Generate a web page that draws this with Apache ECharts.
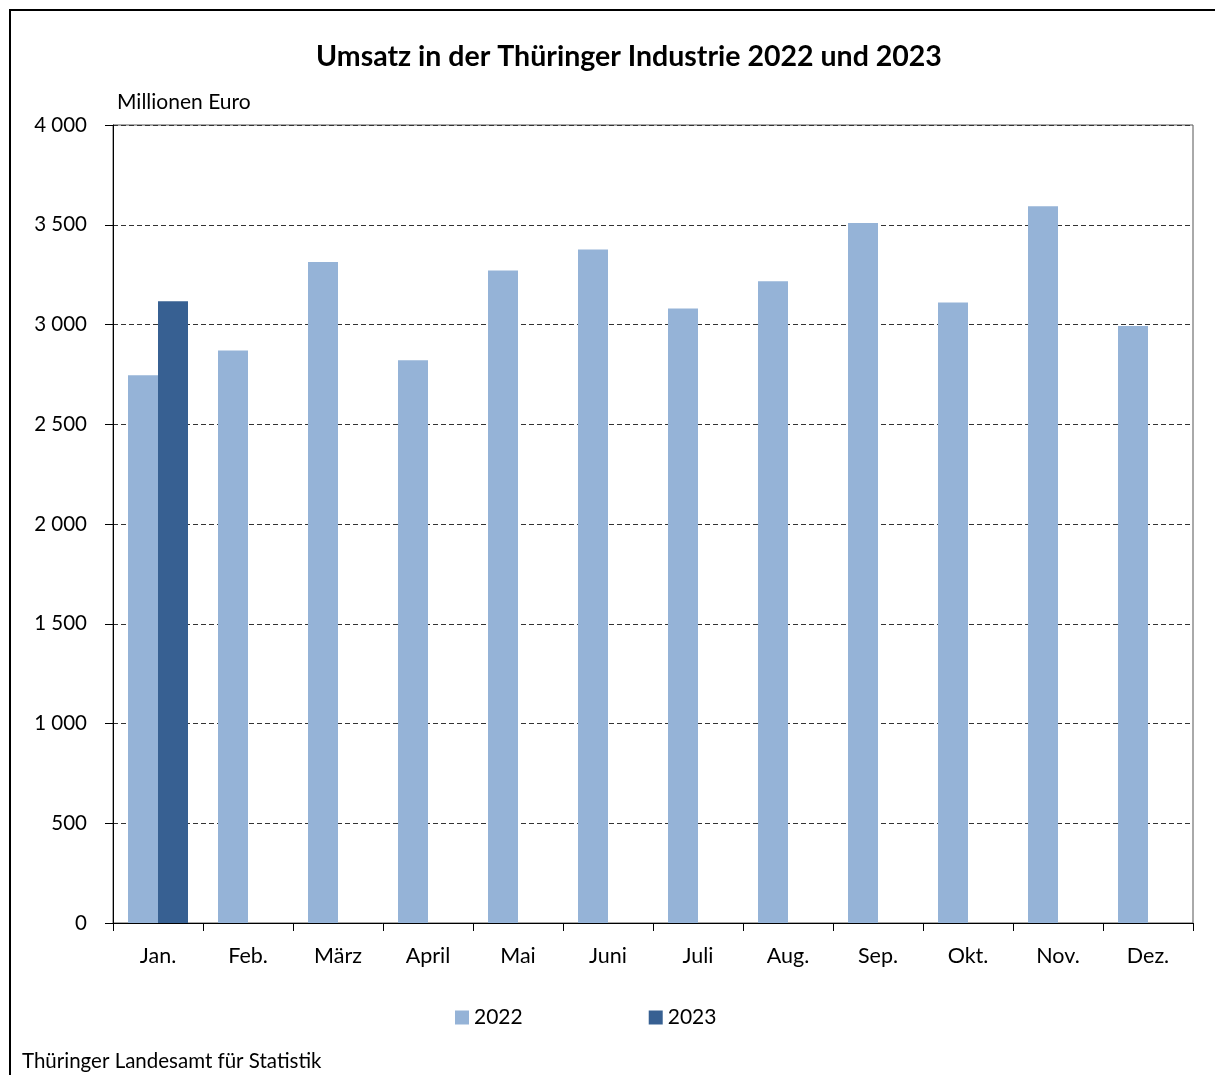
<!DOCTYPE html>
<html>
<head>
<meta charset="utf-8">
<script src="https://cdn.jsdelivr.net/npm/echarts@6/dist/echarts.min.js"></script>
<style>
html,body{margin:0;padding:0;background:#fff;}
#chart{width:1215px;height:1075px;}
</style>
</head>
<body>
<div id="chart"></div>
<script>
const months = ['Jan.', 'Feb.', 'März', 'April', 'Mai', 'Juni', 'Juli', 'Aug.', 'Sep.', 'Okt.', 'Nov.', 'Dez.'];
const sales2022 = [2746, 2870, 3313, 2821, 3271, 3376, 3080, 3217, 3509, 3110, 3593, 2993];
const sales2023 = [3117, null, null, null, null, null, null, null, null, null, null, null];
const seriesNames = ['2022', '2023'];

const FONT = 'Lato';
const chart = echarts.init(document.getElementById('chart'));
const fmt = v => {
  const s = String(v);
  return s.length > 3 ? s.slice(0, -3) + ' ' + s.slice(-3) : s;
};
chart.setOption({
  backgroundColor: '#fff',
  animation: false,
  textStyle: { fontFamily: FONT },
  title: {
    text: 'Umsatz in der Thüringer Industrie 2022 und 2023',
    left: 624, top: 37, textAlign: 'center',
    textStyle: { fontFamily: FONT, fontSize: 28.5, fontWeight: 'bold', color: '#000' }
  },
  graphic: [
    { type: 'rect', shape: { x: 10, y: 10, width: 1300, height: 1200 }, style: { fill: null, stroke: '#000', lineWidth: 2 }, silent: true },
    { type: 'text', left: 117, top: 92, style: { text: 'Millionen Euro', fontFamily: FONT, fontSize: 21, fill: '#000' } },
    { type: 'text', left: 22, top: 1051, style: { text: 'Thüringer Landesamt für Statistik', fontFamily: FONT, fontSize: 20.5, fill: '#000' } }
  ],
  legend: {
    data: seriesNames,
    left: 450, top: 1002,
    itemWidth: 14, itemHeight: 14, itemGap: 126,
    icon: 'rect',
    textStyle: { fontFamily: FONT, fontSize: 21, color: '#000', padding: [0, 0, 0, 0] }
  },
  grid: { left: 113, right: 22, top: 125, bottom: 152, show: true, borderColor: '#555', borderWidth: 1 },
  xAxis: {
    type: 'category',
    data: months,
    axisLine: { lineStyle: { color: '#000', width: 1 } },
    axisTick: { show: true, length: 8, lineStyle: { color: '#000' } },
    axisLabel: { fontFamily: FONT, fontSize: 21.5, color: '#000', margin: 22 }
  },
  yAxis: {
    type: 'value',
    min: 0, max: 4000, interval: 500,
    axisLine: { show: true, lineStyle: { color: '#000', width: 1 } },
    axisTick: { show: true, length: 8, lineStyle: { color: '#000' } },
    axisLabel: { fontFamily: FONT, fontSize: 20.5, color: '#000', margin: 26, formatter: fmt },
    splitLine: { show: true, lineStyle: { color: '#333', type: [5, 3], width: 1 } }
  },
  series: [
    { name: seriesNames[0], type: 'bar', data: sales2022, barGap: '0%', barCategoryGap: '33.33%',
      itemStyle: { color: '#95B3D7' } },
    { name: seriesNames[1], type: 'bar', data: sales2023,
      itemStyle: { color: '#376092' } }
  ]
});
</script>
</body>
</html>
